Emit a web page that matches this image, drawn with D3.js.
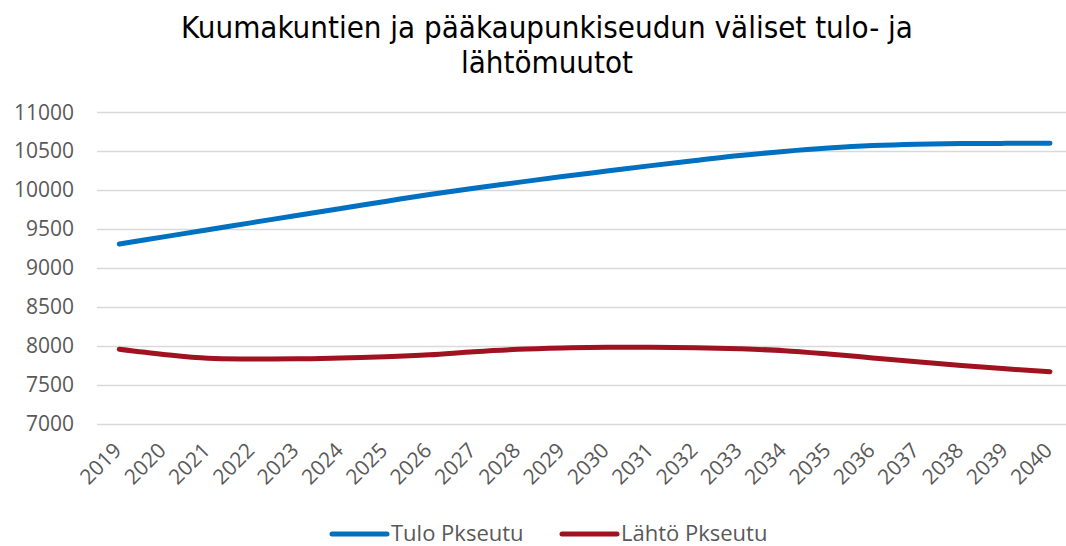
<!DOCTYPE html>
<html>
<head>
<meta charset="utf-8">
<title>Kuumakuntien ja pääkaupunkiseudun väliset tulo- ja lähtömuutot</title>
<script src="https://d3js.org/d3.v7.min.js"></script>
<style>
    body { margin: 0; background: #fff; }
    svg text { fill: #595959; font-family: "Open Sans", sans-serif; }
</style>
</head>
<body>
<div id="chart"></div>
<script>
    // data
    const years = ["2019", "2020", "2021", "2022", "2023", "2024", "2025", "2026", "2027", "2028", "2029",
        "2030", "2031", "2032", "2033", "2034", "2035", "2036", "2037", "2038", "2039", "2040"];
    const tulo = [9308, 9400, 9492, 9583, 9675, 9765, 9855, 9945, 10025, 10100, 10175,
        10245, 10315, 10380, 10445, 10497, 10540, 10572, 10590, 10598, 10601, 10602];
    const lahto = [7956, 7890, 7840, 7832, 7833, 7845, 7860, 7885, 7925, 7955, 7972,
        7982, 7982, 7977, 7962, 7938, 7895, 7845, 7795, 7748, 7705, 7668];
    const yTicks = [7000, 7500, 8000, 8500, 9000, 9500, 10000, 10500, 11000];
    const seriesNames = ["Tulo Pkseutu", "Lähtö Pkseutu"];
    const seriesColors = ["#0070c0", "#a0121f"];

    const width = 1066;
    const height = 546;

    const svg = d3.select("#chart")
        .append("svg")
        .attr("width", width)
        .attr("height", height);

    // title
    const title = svg.append("text")
        .attr("text-anchor", "middle")
        .style("font-family", "'DejaVu Sans Condensed', 'DejaVu Sans', sans-serif")
        .style("font-size", "31px")
        .style("fill", "#000");
    title.append("tspan").attr("x", 547).attr("y", 38).text("Kuumakuntien ja pääkaupunkiseudun väliset tulo- ja");
    title.append("tspan").attr("x", 547).attr("y", 73).text("lähtömuutot");

    const x = d3.scalePoint()
        .domain(years)
        .range([119.3, 1050]);

    const y = d3.scaleLinear()
        .domain([7000, 11000])
        .range([423.7, 112.3]);

    // gridlines
    svg.append("g")
        .selectAll("line")
        .data(yTicks)
        .join("line")
        .attr("x1", 97)
        .attr("x2", width)
        .attr("y1", d => Math.round(y(d)) + 0.5)
        .attr("y2", d => Math.round(y(d)) + 0.5)
        .attr("stroke", "#d9d9d9")
        .attr("stroke-width", 1.5);

    // y axis
    const yAxis = svg.append("g")
        .attr("transform", "translate(97,0)")
        .call(d3.axisLeft(y).tickValues(yTicks).tickSize(0).tickPadding(23).tickFormat(d3.format("d")));
    yAxis.select(".domain").remove();
    yAxis.selectAll("text").style("font-size", "21px");

    // x axis
    const xAxis = svg.append("g")
        .attr("transform", "translate(0,423.7)")
        .call(d3.axisBottom(x).tickSize(0));
    xAxis.select(".domain").remove();
    xAxis.selectAll("text")
        .style("font-size", "21px")
        .attr("text-anchor", "end")
        .attr("dy", null)
        .attr("y", null)
        .attr("transform", "translate(3,28) rotate(-45)");

    // lines
    const line = d3.line()
        .x((d, i) => x(years[i]))
        .y(d => y(d))
        .curve(d3.curveCatmullRom.alpha(0.5));

    [tulo, lahto].forEach((s, k) => {
        svg.append("path")
            .datum(s)
            .attr("fill", "none")
            .attr("stroke", seriesColors[k])
            .attr("stroke-width", 5)
            .attr("stroke-linecap", "round")
            .attr("stroke-linejoin", "round")
            .attr("d", line);
    });

    // legend
    const legendX = [332, 562];
    const legend = svg.append("g");
    seriesNames.forEach((name, k) => {
        legend.append("line")
            .attr("x1", legendX[k]).attr("x2", legendX[k] + 55)
            .attr("y1", 534).attr("y2", 534)
            .attr("stroke", seriesColors[k])
            .attr("stroke-width", 5)
            .attr("stroke-linecap", "round");
        legend.append("text")
            .attr("x", legendX[k] + 59)
            .attr("y", 541)
            .style("font-size", "22px")
            .text(name);
    });
</script>
</body>
</html>
